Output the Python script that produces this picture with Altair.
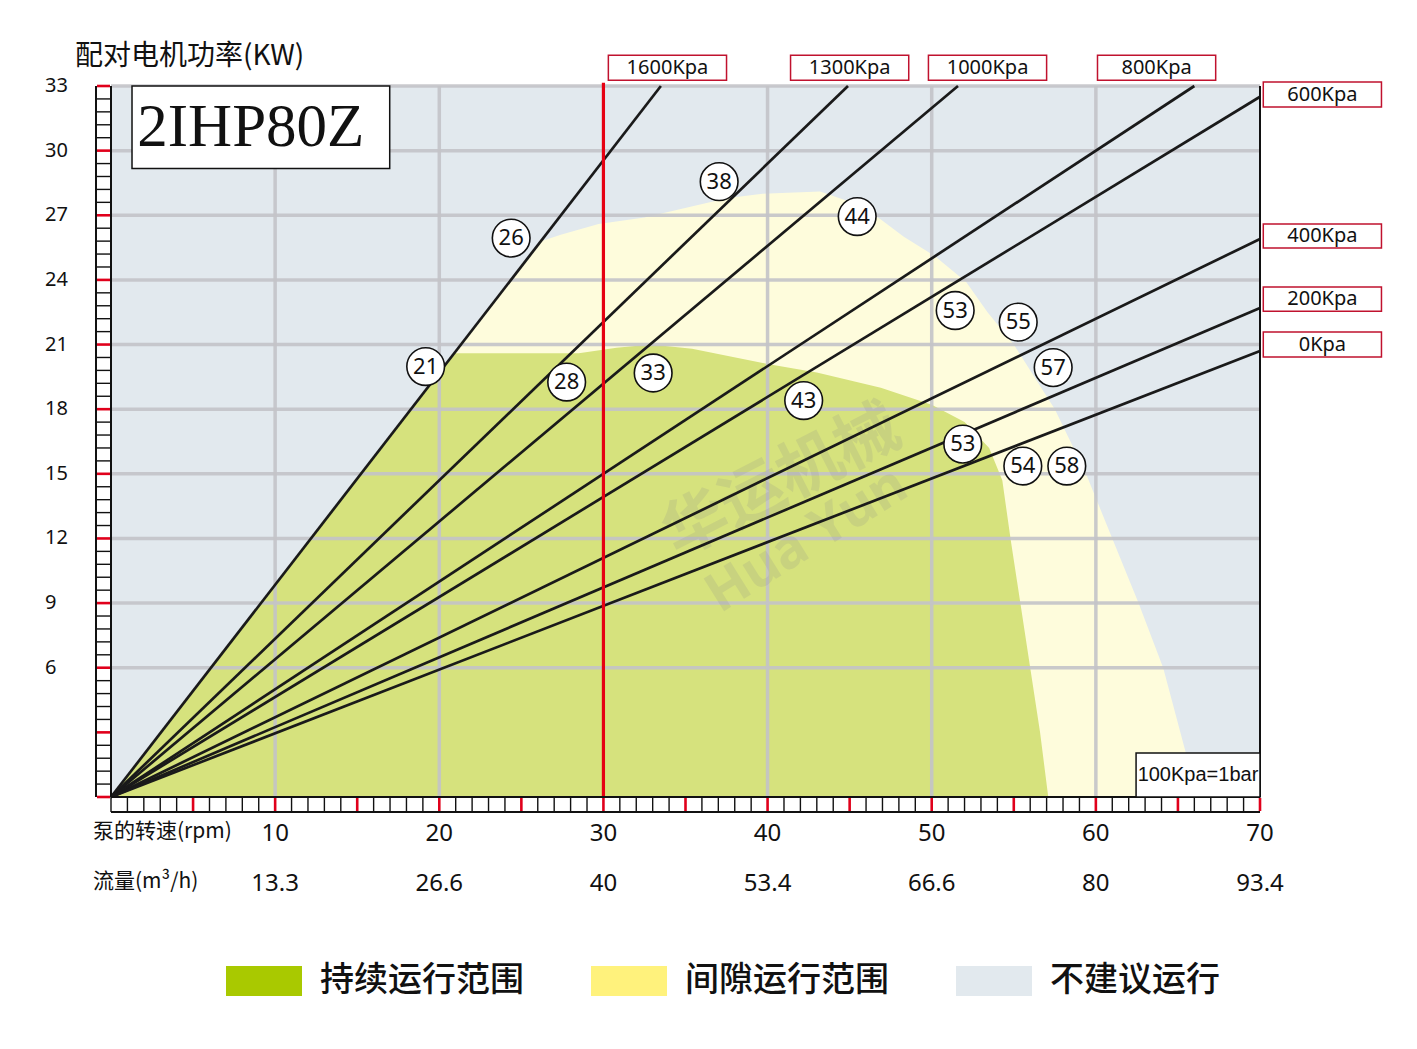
import altair as alt
import pandas as pd

# ---------------- data ----------------
press_labels = ["1600Kpa", "1300Kpa", "1000Kpa", "800Kpa", "600Kpa", "400Kpa", "200Kpa", "0Kpa"]
press_end_rpm = [33.5, 44.9, 51.6, 66.0, 70.0, 70.0, 70.0, 70.0]
press_end_kw = [33.0, 33.0, 33.0, 33.0, 32.5, 25.9, 22.7, 20.7]

# pressure label boxes (data units)
lab_x1 = [30.3, 41.4, 49.8, 60.1, 70.2, 70.2, 70.2, 70.2]
lab_x2 = [37.5, 48.6, 57.0, 67.3, 77.4, 77.4, 77.4, 77.4]
lab_y1 = [33.27, 33.27, 33.27, 33.27, 32.02, 25.48, 22.55, 20.42]
lab_y2 = [34.43, 34.43, 34.43, 34.43, 33.18, 26.59, 23.67, 21.58]

circ_text = ["21", "26", "28", "33", "38", "44", "43", "53", "55", "57", "53", "54", "58"]
circ_rpm = [19.17, 24.38, 27.76, 33.03, 37.05, 45.46, 42.2, 51.43, 55.27, 57.4, 51.89, 55.55, 58.23]
circ_kw = [19.98, 25.94, 19.26, 19.68, 28.56, 26.94, 18.4, 22.58, 22.04, 19.93, 16.38, 15.36, 15.36]

yellow_rpm = [0, 26.2, 27.4, 29.7, 32.5, 35.3, 37.6, 39.7, 43.2, 45.5, 46.9, 48.3, 50.2,
              52.1, 53.4, 55.0, 57.5, 59.4, 61.0, 62.6, 64.1, 65.5, 66.1]
yellow_kw = [0, 25.8, 26.1, 26.6, 26.9, 27.4, 27.8, 28.0, 28.1, 27.5, 26.8, 26.0, 25.1,
             23.9, 22.5, 21.0, 18.0, 15.0, 12.0, 9.0, 6.0, 2.0, 0]

green_rpm = [0, 20.9, 28.5, 30.8, 32.9, 35.4, 40.0, 43.0, 46.9, 50.0, 52.0, 53.5, 54.3,
             54.8, 55.4, 56.0, 56.6, 57.1]
green_kw = [0, 20.6, 20.6, 20.85, 21.0, 20.8, 20.1, 19.7, 19.0, 18.2, 17.4, 16.2, 14.7,
            12.0, 9.0, 6.0, 3.0, 0]

y_ticks = [6, 9, 12, 15, 18, 21, 24, 27, 30, 33]
x_ticks = [10, 20, 30, 40, 50, 60, 70]
flow_labels = ["13.3", "26.6", "40", "53.4", "66.6", "80", "93.4"]
grid_x = [10, 20, 40, 50, 60]
y_rungs = [round(i * 0.6, 1) for i in range(56)]
x_rungs = list(range(0, 71))

legend_names = ["持续运行范围", "间隙运行范围", "不建议运行"]
legend_colors = ["#a9c900", "#fff27c", "#e2e9ee"]

# ---------------- styles ----------------
CJK = "Noto Sans CJK SC"
SANS = "Noto Sans"
W, H = 1149, 711

xs = alt.Scale(domain=[0, 70], nice=False, zero=False)
ys = alt.Scale(domain=[0, 33], nice=False, zero=False)


def X(f):
    return alt.X(f, type="quantitative", scale=xs, axis=None)


def Y(f):
    return alt.Y(f, type="quantitative", scale=ys, axis=None)


def box(x1, x2, y1, y2):
    return pd.DataFrame({"x1": [x1], "x2": [x2], "y1": [y1], "y2": [y2]})


def pt(x, y):
    return pd.DataFrame({"x": [x], "y": [y]})


one = pd.DataFrame({"a": [0]})

bg = alt.Chart(box(0, 70, 0, 33)).mark_rect(color="#e2e9ee").encode(
    x=X("x1"), x2="x2", y=Y("y1"), y2="y2")

ydf = pd.DataFrame({"x": yellow_rpm, "y": yellow_kw})
ydf["y0"] = 0
yellow = alt.Chart(ydf).mark_area(color="#fefcdc").encode(x=X("x"), y=Y("y"), y2="y0")

gdf = pd.DataFrame({"x": green_rpm, "y": green_kw})
gdf["y0"] = 0
green = alt.Chart(gdf).mark_area(color="#d6e27d").encode(x=X("x"), y=Y("y"), y2="y0")

ghdf = pd.DataFrame({"y": y_ticks})
ghdf["x1"] = 0
ghdf["x2"] = 70
gridh = alt.Chart(ghdf).mark_rule(color="#c3c3c8", strokeWidth=3.5, opacity=0.9).encode(
    y=Y("y"), x=X("x1"), x2="x2")

gvdf = pd.DataFrame({"x": grid_x})
gvdf["y1"] = 0
gvdf["y2"] = 33
gridv = alt.Chart(gvdf).mark_rule(color="#c3c3c8", strokeWidth=3.5, opacity=0.9).encode(
    x=X("x"), y=Y("y1"), y2="y2")

wm1 = alt.Chart(pt(40.9, 14.6)).mark_text(
    text="华运机械", font=CJK, fontSize=64, fontWeight="bold", angle=333,
    color="#8c8c8c", opacity=0.18).encode(x=X("x"), y=Y("y"))
wm2 = alt.Chart(pt(42.4, 11.9)).mark_text(
    text="Hua Yun", font=SANS, fontSize=54, fontWeight="bold", angle=328,
    color="#8c8c8c", opacity=0.18).encode(x=X("x"), y=Y("y"))

lines_rows = []
for lab, ex, ey in zip(press_labels, press_end_rpm, press_end_kw):
    lines_rows.append({"p": lab, "x": 0, "y": 0})
    lines_rows.append({"p": lab, "x": ex, "y": ey})
plines = alt.Chart(pd.DataFrame(lines_rows)).mark_line(
    color="#1a1a1a", strokeWidth=2.7).encode(x=X("x"), y=Y("y"), detail="p:N")

rldf = pd.DataFrame({"x": [30], "y1": [0], "y2": [33.15]})
redline = alt.Chart(rldf).mark_rule(color="#e60012", strokeWidth=3.2).encode(
    x=X("x"), y=Y("y1"), y2="y2")

cdf = pd.DataFrame({"x": circ_rpm, "y": circ_kw, "t": circ_text})
circles = alt.Chart(cdf).mark_point(
    shape="circle", filled=True, fill="white", stroke="#111111", strokeWidth=1.6,
    size=1420, opacity=1).encode(x=X("x"), y=Y("y"))
ctext = alt.Chart(cdf).mark_text(font=SANS, fontSize=22, color="#111111").encode(
    x=X("x"), y=Y("y"), text="t:N")

ldf = pd.DataFrame({"x1": lab_x1, "x2": lab_x2, "y1": lab_y1, "y2": lab_y2, "t": press_labels})
ldf["xc"] = (ldf["x1"] + ldf["x2"]) / 2
ldf["yc"] = (ldf["y1"] + ldf["y2"]) / 2
lboxes = alt.Chart(ldf).mark_rect(fill="white", stroke="#c0122e", strokeWidth=1.5).encode(
    x=X("x1"), x2="x2", y=Y("y1"), y2="y2")
ltext = alt.Chart(ldf).mark_text(font=SANS, fontSize=20, color="#111111").encode(
    x=X("xc"), y=Y("yc"), text="t:N")

# frame and ladders
fvdf = pd.DataFrame({"x": [0, 70], "y1": [0, 0], "y2": [33, 33]})
frame_v = alt.Chart(fvdf).mark_rule(color="#111111", strokeWidth=2).encode(
    x=X("x"), y=Y("y1"), y2="y2")
lldf = pd.DataFrame({"y1": [0], "y2": [33]})
ladder_left = alt.Chart(lldf).mark_rule(color="#111111", strokeWidth=2).encode(
    x=alt.value(-15), y=Y("y1"), y2="y2")
fbdf = pd.DataFrame({"y": [0], "x1": [0], "x2": [70]})
frame_b = alt.Chart(fbdf).mark_rule(color="#111111", strokeWidth=2).encode(
    y=Y("y"), x=X("x1"), x2="x2")
lbdf = pd.DataFrame({"x1": [0], "x2": [70]})
ladder_bottom = alt.Chart(lbdf).mark_rule(color="#111111", strokeWidth=2).encode(
    y=alt.value(H + 15), x=X("x1"), x2="x2")

yr = pd.DataFrame({"y": y_rungs})
yr["red"] = [abs(v / 3 - round(v / 3)) < 1e-6 for v in y_rungs]
rungs_y_black = alt.Chart(yr[~yr["red"]][["y"]].reset_index(drop=True)).mark_rule(
    color="#111111", strokeWidth=1.4).encode(y=Y("y"), x=alt.value(-15), x2=alt.value(0))
rungs_y_red = alt.Chart(yr[yr["red"]][["y"]].reset_index(drop=True)).mark_rule(
    color="#e0001b", strokeWidth=2.6).encode(y=Y("y"), x=alt.value(-14), x2=alt.value(-1))

xr = pd.DataFrame({"x": x_rungs})
xr["red"] = [(v % 5 == 0 and v > 0) for v in x_rungs]
rungs_x_black = alt.Chart(xr[~xr["red"]][["x"]].reset_index(drop=True)).mark_rule(
    color="#111111", strokeWidth=1.4).encode(x=X("x"), y=alt.value(H), y2=alt.value(H + 15))
rungs_x_red = alt.Chart(xr[xr["red"]][["x"]].reset_index(drop=True)).mark_rule(
    color="#e0001b", strokeWidth=2.6).encode(x=X("x"), y=alt.value(H + 1), y2=alt.value(H + 14))

# model box
mbox = alt.Chart(box(1.28, 16.98, 29.17, 33.0)).mark_rect(
    fill="white", stroke="#111111", strokeWidth=1.5).encode(
    x=X("x1"), x2="x2", y=Y("y1"), y2="y2")
mtext = alt.Chart(pt(1.6, 30.2)).mark_text(
    text="2IHP80Z", font="Liberation Serif", fontSize=61, align="left",
    baseline="alphabetic", color="#111111").encode(x=X("x"), y=Y("y"))

# unit note box
nbox = alt.Chart(box(62.45, 70, 0, 2.04)).mark_rect(
    fill="white", stroke="#111111", strokeWidth=1.5).encode(
    x=X("x1"), x2="x2", y=Y("y1"), y2="y2")
ntext = alt.Chart(pt(66.22, 1.0)).mark_text(
    text="100Kpa=1bar", font="Liberation Sans", fontSize=20,
    color="#111111").encode(x=X("x"), y=Y("y"))

# tick labels
ylab = alt.Chart(pd.DataFrame({"y": y_ticks})).mark_text(
    font=SANS, fontSize=20, align="left", color="#111111").encode(
    y=Y("y"), x=alt.value(-66), text="y:Q")
xlab = alt.Chart(pd.DataFrame({"x": x_ticks})).mark_text(
    font=SANS, fontSize=24, color="#111111").encode(
    x=X("x"), y=alt.value(H + 37), text="x:Q")
flab = alt.Chart(pd.DataFrame({"x": x_ticks, "t": flow_labels})).mark_text(
    font=SANS, fontSize=24, color="#111111").encode(
    x=X("x"), y=alt.value(H + 87), text="t:N")

t_rpm = alt.Chart(one).mark_text(text="泵的转速(rpm)", font=CJK, fontSize=21, align="left",
                                 color="#111111").encode(x=alt.value(-18), y=alt.value(H + 35))
t_flow = alt.Chart(one).mark_text(text="流量(m³/h)", font=CJK, fontSize=21, align="left",
                                  color="#111111").encode(x=alt.value(-18), y=alt.value(H + 85))
t_kw = alt.Chart(one).mark_text(text="配对电机功率(KW)", font=CJK, fontSize=28, align="left",
                                color="#111111").encode(x=alt.value(-36), y=alt.value(-29))

legdf = pd.DataFrame({"cat": legend_names, "x": [35, 35, 35], "y": [15, 15, 15]})
legend_layer = alt.Chart(legdf).mark_point(
    shape="square", filled=True, opacity=0).encode(
    x=X("x"), y=Y("y"),
    color=alt.Color("cat:N", scale=alt.Scale(domain=legend_names, range=legend_colors),
                    legend=alt.Legend(
                        orient="none", legendX=115, legendY=857, direction="horizontal",
                        title=None, symbolType="M-1,-0.395H1V0.395H-1Z", symbolSize=5776,
                        symbolOpacity=1, symbolStrokeWidth=0, labelFont=CJK, labelFontSize=34,
                        labelFontWeight=500,
                        labelColor="#111111", labelOffset=18, columnPadding=67, padding=0,
                        labelLimit=400)))

chart = alt.layer(
    bg, yellow, green, gridh, gridv, wm1, wm2, plines, redline, circles, ctext,
    lboxes, ltext, rungs_y_black, rungs_y_red, rungs_x_black, rungs_x_red,
    frame_v, ladder_left, frame_b, ladder_bottom, mbox, mtext, nbox, ntext,
    ylab, xlab, flab, t_rpm, t_flow, t_kw, legend_layer
).properties(
    width=W, height=H,
    padding={"left": 103, "top": 78, "right": 140, "bottom": 240},
    autosize=alt.AutoSizeParams(type="none"),
    background="white",
).configure_view(stroke="transparent")

chart.save("out.html", embed_options={"renderer": "svg", "actions": False})
